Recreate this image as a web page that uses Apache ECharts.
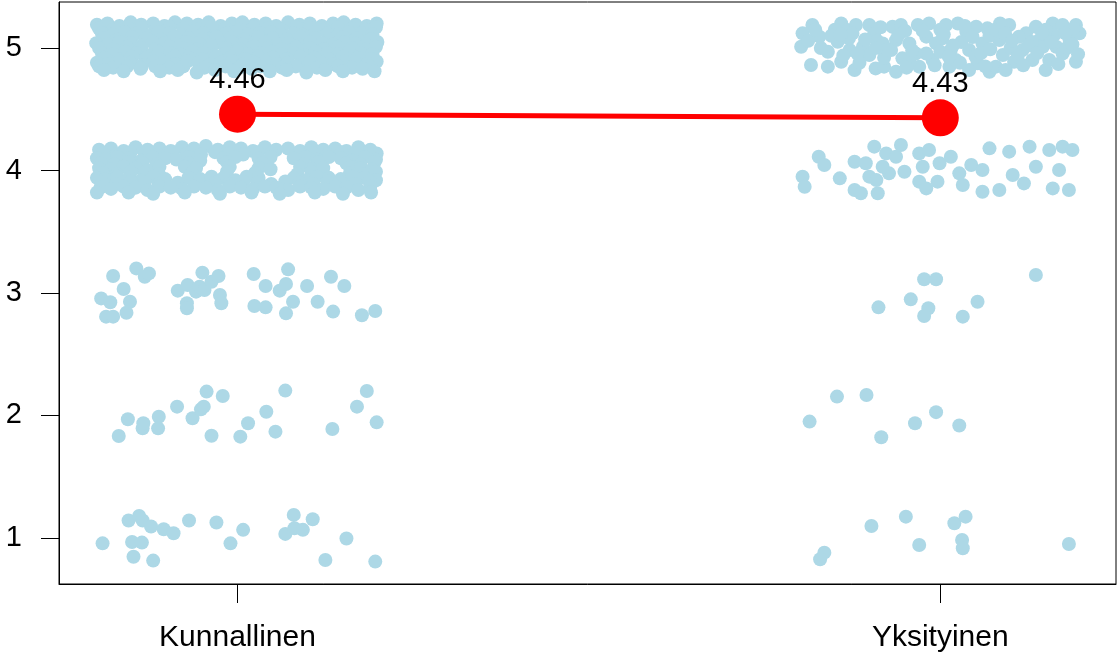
<!DOCTYPE html>
<html>
<head>
<meta charset="utf-8">
<script src="https://cdn.jsdelivr.net/npm/echarts@6/dist/echarts.min.js"></script>
<style>
html,body{margin:0;padding:0;background:#fff;}
#chart{width:1117px;height:656px;}
</style>
</head>
<body>
<div id="chart"></div>
<script>
// ---- data ----
const categories = ['Kunnallinen', 'Yksityinen'];
const yTicks = [1, 2, 3, 4, 5];
const meanValues = [4.46, 4.43];
const meanLabels = ['4.46', '4.43'];

// Kunnallinen, answers = 5 (jittered)
const kun5 = [
[0.800,5.19],[0.815,5.20],[0.832,5.18],[0.848,5.21],[0.863,5.19],[0.880,5.20],[0.896,5.18],[0.911,5.21],[0.928,5.20],[0.944,5.19],[0.959,5.21],[0.976,5.18],[0.992,5.20],[1.007,5.21],[1.024,5.19],[1.040,5.20],[1.055,5.18],[1.072,5.21],[1.088,5.19],[1.103,5.20],[1.120,5.18],[1.136,5.20],[1.151,5.21],[1.168,5.19],[1.184,5.18],[1.198,5.20],
[0.803,5.16],[0.823,5.15],[0.843,5.17],[0.863,5.16],[0.883,5.15],[0.903,5.17],[0.923,5.16],[0.943,5.15],[0.963,5.17],[0.983,5.16],[1.003,5.15],[1.023,5.17],[1.043,5.16],[1.063,5.15],[1.083,5.17],[1.103,5.16],[1.123,5.15],[1.143,5.17],[1.163,5.16],[1.183,5.15],[1.197,5.17],
[0.807,5.12],[0.823,5.11],[0.840,5.13],[0.856,5.12],[0.871,5.10],[0.888,5.13],[0.904,5.12],[0.919,5.11],[0.936,5.13],[0.952,5.12],[0.967,5.10],[0.984,5.12],[1.000,5.13],[1.015,5.11],[1.032,5.12],[1.048,5.13],[1.063,5.11],[1.080,5.12],[1.096,5.10],[1.111,5.13],[1.128,5.12],[1.144,5.11],[1.159,5.13],[1.176,5.12],[1.192,5.11],
[0.810,5.08],[0.830,5.07],[0.850,5.09],[0.870,5.08],[0.890,5.07],[0.910,5.09],[0.930,5.08],[0.950,5.07],[0.970,5.09],[0.990,5.08],[1.010,5.07],[1.030,5.09],[1.050,5.08],[1.070,5.07],[1.090,5.09],[1.110,5.08],[1.130,5.07],[1.150,5.09],[1.170,5.08],[1.190,5.07],
[0.799,5.04],[0.815,5.03],[0.832,5.05],[0.848,5.04],[0.864,5.02],[0.880,5.05],[0.896,5.04],[0.912,5.03],[0.928,5.05],[0.944,5.04],[0.960,5.02],[0.976,5.04],[0.992,5.05],[1.008,5.03],[1.024,5.04],[1.040,5.05],[1.056,5.03],[1.072,5.04],[1.088,5.02],[1.104,5.05],[1.120,5.04],[1.136,5.03],[1.152,5.05],[1.168,5.04],[1.184,5.03],[1.199,5.05],
[0.803,5.00],[0.823,4.99],[0.843,5.01],[0.863,5.00],[0.883,4.99],[0.903,5.01],[0.923,5.00],[0.943,4.99],[0.963,5.01],[0.983,5.00],[1.003,4.99],[1.023,5.01],[1.043,5.00],[1.063,4.99],[1.083,5.01],[1.103,5.00],[1.123,4.99],[1.143,5.01],[1.163,5.00],[1.183,4.99],[1.197,5.01],
[0.807,4.96],[0.823,4.95],[0.840,4.97],[0.856,4.96],[0.871,4.94],[0.888,4.97],[0.904,4.96],[0.919,4.95],[0.936,4.97],[0.952,4.96],[0.967,4.94],[0.984,4.96],[1.000,4.97],[1.015,4.95],[1.032,4.96],[1.048,4.97],[1.063,4.95],[1.080,4.96],[1.096,4.94],[1.111,4.97],[1.128,4.96],[1.144,4.95],[1.159,4.97],[1.176,4.96],[1.192,4.95],
[0.810,4.92],[0.830,4.91],[0.850,4.93],[0.870,4.92],[0.890,4.91],[0.910,4.93],[0.930,4.92],[0.950,4.91],[0.970,4.93],[0.990,4.92],[1.010,4.91],[1.030,4.93],[1.050,4.92],[1.070,4.91],[1.090,4.93],[1.110,4.92],[1.130,4.91],[1.150,4.93],[1.170,4.92],[1.190,4.91],
[0.800,4.88],[0.815,4.87],[0.832,4.89],[0.848,4.88],[0.864,4.86],[0.880,4.89],[0.896,4.88],[0.912,4.87],[0.928,4.89],[0.944,4.88],[0.960,4.86],[0.976,4.88],[0.992,4.89],[1.008,4.87],[1.024,4.88],[1.040,4.89],[1.056,4.87],[1.072,4.88],[1.088,4.86],[1.104,4.89],[1.120,4.88],[1.136,4.87],[1.152,4.89],[1.168,4.88],[1.184,4.87],[1.198,4.89],
[0.803,4.85],[0.823,4.84],[0.843,4.85],[0.863,4.84],[0.883,4.85],[0.903,4.84],[0.923,4.85],[0.953,4.84],[0.983,4.85],[1.003,4.84],[1.033,4.85],[1.063,4.84],[1.083,4.85],[1.113,4.84],[1.143,4.85],[1.163,4.84],[1.188,4.85],
[0.810,4.82],[0.838,4.81],[0.862,4.83],[0.890,4.81],[0.915,4.82],[0.942,4.80],[0.968,4.82],[0.995,4.81],[1.020,4.83],[1.046,4.81],[1.070,4.82],[1.098,4.80],[1.125,4.82],[1.150,4.81],[1.178,4.83],[1.195,4.81]
];

// Kunnallinen, answers = 4
const kun4 = [
[0.803,4.17],[0.820,4.18],[0.838,4.16],[0.855,4.19],[0.872,4.17],[0.889,4.18],[0.905,4.16],[0.921,4.19],[0.938,4.18],[0.955,4.20],[0.972,4.17],[0.989,4.19],[1.005,4.18],[1.022,4.16],[1.039,4.19],[1.055,4.17],[1.072,4.18],[1.089,4.16],[1.105,4.19],[1.122,4.17],[1.139,4.18],[1.155,4.16],[1.172,4.19],[1.189,4.17],[1.198,4.14],
[0.808,4.14],[0.828,4.13],[0.848,4.15],[0.868,4.14],[0.888,4.13],[0.908,4.15],[0.928,4.14],[0.948,4.13],[0.968,4.15],[0.988,4.14],[1.008,4.13],[1.028,4.15],[1.048,4.14],[1.088,4.15],[1.108,4.14],[1.128,4.13],[1.148,4.15],[1.168,4.14],[1.188,4.13],
[0.800,4.10],[0.812,4.09],[0.829,4.11],[0.846,4.10],[0.863,4.08],[0.880,4.11],[0.897,4.10],[0.913,4.09],[0.930,4.11],[0.947,4.08],[0.980,4.10],[0.997,4.11],[1.030,4.10],[1.047,4.11],[1.080,4.10],[1.097,4.11],[1.113,4.09],[1.130,4.11],[1.147,4.10],[1.164,4.08],[1.181,4.11],[1.197,4.09],
[0.805,4.06],[0.825,4.05],[0.845,4.07],[0.865,4.06],[0.885,4.05],[0.930,4.06],[0.985,4.07],[1.035,4.06],[1.095,4.05],[1.115,4.07],[1.155,4.06],[1.175,4.05],[1.195,4.07],
[0.803,4.02],[0.820,4.01],[0.838,4.03],[0.855,4.02],[0.872,4.00],[0.889,4.03],[0.925,4.03],[0.941,4.02],[0.989,4.03],[1.030,4.02],[1.047,4.01],[1.089,4.03],[1.105,4.01],[1.122,4.02],[1.160,4.03],[1.175,4.02],[1.192,4.01],
[0.808,3.98],[0.828,3.97],[0.848,3.99],[0.868,3.98],[0.888,3.97],[0.935,3.98],[0.985,3.99],[1.025,3.98],[1.085,3.97],[1.105,3.99],[1.160,3.98],[1.180,3.97],[1.197,3.99],
[0.800,3.94],[0.812,3.93],[0.829,3.95],[0.846,3.94],[0.863,3.92],[0.880,3.95],[0.897,3.93],[0.930,3.94],[0.947,3.93],[0.963,3.95],[0.980,3.94],[0.997,3.92],[1.013,3.95],[1.030,3.94],[1.080,3.94],[1.097,3.92],[1.113,3.95],[1.130,3.94],[1.147,3.93],[1.164,3.95],[1.181,3.94],[1.197,3.92],
[0.808,3.90],[0.828,3.89],[0.848,3.91],[0.868,3.90],[0.888,3.89],[0.915,3.90],[0.945,3.91],[0.968,3.90],[0.988,3.89],[1.008,3.91],[1.028,3.90],[1.048,3.89],[1.068,3.91],[1.088,3.90],[1.108,3.89],[1.128,3.91],[1.148,3.90],[1.168,3.89],[1.188,3.91],
[0.805,3.86],[0.820,3.85],[0.838,3.87],[0.855,3.86],[0.872,3.84],[0.889,3.87],[0.905,3.86],[0.921,3.85],[0.938,3.87],[0.955,3.86],[0.972,3.84],[0.989,3.87],[1.005,3.86],[1.022,3.85],[1.039,3.87],[1.055,3.86],[1.072,3.84],[1.089,3.87],[1.105,3.86],[1.122,3.85],[1.139,3.87],[1.155,3.86],[1.172,3.84],[1.189,3.87],
[0.800,3.82],[0.845,3.82],[0.880,3.81],[0.925,3.82],[0.975,3.81],[1.020,3.82],[1.060,3.81],[1.110,3.82],[1.150,3.81],[1.190,3.82]
];

// Kunnallinen, answers = 3
const kun3 = [
[0.806,2.956],[0.823,3.139],[0.819,2.924],[0.838,3.033],[0.847,2.929],[0.813,2.807],[0.823,2.807],[0.842,2.839],[0.856,3.201],[0.868,3.133],[0.874,3.160],[0.915,3.019],[0.929,3.065],[0.928,2.916],[0.928,2.875],[0.941,3.011],[0.950,3.166],[0.946,3.052],[0.953,3.024],[0.963,3.092],[0.973,3.139],[0.975,2.984],[0.977,2.916],[1.023,3.155],[1.024,2.894],[1.040,3.057],[1.040,2.883],[1.060,3.019],[1.069,3.073],[1.072,3.193],[1.069,2.834],[1.079,2.929],[1.099,3.057],[1.114,2.929],[1.133,3.133],[1.136,2.848],[1.152,3.057],[1.177,2.818],[1.196,2.853]
];

// Kunnallinen, answers = 2
const kun2 = [
[0.831,1.833],[0.844,1.969],[0.865,1.895],[0.866,1.936],[0.888,1.990],[0.887,1.895],[0.914,2.072],[0.936,1.977],[0.948,2.050],[0.952,2.072],[0.956,2.195],[0.979,2.159],[0.963,1.835],[1.004,1.827],[1.015,1.936],[1.041,2.031],[1.054,1.868],[1.068,2.203],[1.135,1.890],[1.170,2.072],[1.184,2.200],[1.198,1.944]
];

// Kunnallinen, answers = 1
const kun1 = [
[0.808,0.956],[0.845,1.142],[0.860,1.180],[0.865,1.142],[0.877,1.093],[0.895,1.071],[0.909,1.038],[0.931,1.142],[0.970,1.126],[1.008,1.066],[0.990,0.956],[0.850,0.967],[0.864,0.962],[0.852,0.847],[0.880,0.815],[1.068,1.033],[1.080,1.188],[1.081,1.079],[1.093,1.066],[1.107,1.153],[1.155,0.995],[1.125,0.820],[1.196,0.807]
];

// Yksityinen, answers = 5
const yks5 = [
[1.818,5.188],[1.804,5.120],[1.802,5.011],[1.816,4.861],[1.840,4.848],[1.859,5.201],[1.868,5.147],[1.880,5.188],[1.854,5.052],[1.840,4.970],[1.859,4.888],[1.878,4.820],[1.899,5.188],[1.906,5.120],[1.890,5.011],[1.899,4.943],[1.908,4.834],[1.920,4.848],[1.932,5.174],[1.944,5.188],[1.937,5.065],[1.930,4.984],[1.946,4.916],[1.937,4.807],[1.956,5.038],[1.968,5.188],[1.984,5.201],[1.980,5.093],[1.994,5.038],[1.989,4.902],[1.970,4.848],[2.008,5.188],[2.003,5.079],[2.015,4.984],[2.013,4.848],[2.037,5.133],[2.051,5.174],[2.067,5.161],[2.041,4.984],[2.060,5.038],[2.053,4.875],[2.070,4.807],[2.084,5.065],[2.098,5.188],[2.089,4.943],[2.105,4.888],[2.122,5.120],[2.117,4.984],[2.136,5.174],[2.141,5.065],[2.131,4.902],[2.150,4.820],[2.160,5.201],[2.174,5.188],[2.193,5.188],[2.184,5.065],[2.165,5.011],[2.193,4.888],[2.155,4.902],[2.174,4.956],[2.146,5.011],[2.112,5.093],[2.079,4.848],[2.022,4.902],[1.980,4.956],[1.956,4.888],[1.918,5.038],[1.871,4.984],[1.828,5.093],[1.882,4.956],[1.965,4.956],[2.041,4.820],[2.093,4.820],[2.162,5.106],[2.198,5.120],
[1.850,5.150],[1.830,5.000],[1.870,5.080],[1.910,5.060],[1.950,5.140],[1.960,4.980],[2.000,5.150],[2.030,5.050],[2.050,4.930],[2.070,5.100],[2.100,5.000],[2.110,4.930],[2.130,5.050],[2.150,5.150],[2.180,5.000],[2.190,5.160],[1.920,4.920],[2.000,4.970],[2.025,5.200],[2.085,5.200],
[1.812,5.060],[1.822,5.150],[1.845,5.100],[1.862,4.940],[1.875,5.120],[1.885,4.880],[1.893,5.070],[1.915,5.170],[1.925,4.990],[1.940,5.100],[1.952,4.840],[1.975,5.140],[1.992,4.860],[2.005,5.110],[2.018,5.020],[2.028,4.880],[2.035,5.180],[2.046,5.090],[2.058,4.960],[2.064,4.850],[2.078,5.150],[2.092,5.120],[2.102,5.060],[2.118,4.860],[2.125,5.020],[2.138,4.960],[2.145,5.120],[2.158,5.050],[2.168,4.870],[2.178,5.120],[2.188,5.030],[2.196,4.950],[1.858,5.110],[1.908,5.000],[2.012,4.930],[2.071,4.990]
];

// Yksityinen, answers = 4
const yks4 = [
[1.827,4.113],[1.835,4.045],[1.804,3.950],[1.807,3.868],[1.857,3.936],[1.878,4.072],[1.894,4.059],[1.906,4.195],[1.899,3.950],[1.878,3.841],[1.887,3.814],[1.911,3.814],[1.909,3.922],[1.923,4.140],[1.937,4.113],[1.944,4.208],[1.949,3.990],[1.927,3.977],[1.918,4.031],[1.970,4.140],[1.984,4.167],[1.999,4.059],[2.015,4.113],[1.975,4.031],[1.970,3.909],[1.980,3.854],[1.996,3.909],[2.027,3.977],[2.032,3.882],[2.044,4.045],[2.060,4.004],[2.060,3.827],[2.070,4.181],[2.084,3.841],[2.098,4.154],[2.103,3.963],[2.119,3.895],[2.127,4.195],[2.136,4.031],[2.155,4.167],[2.169,4.004],[2.174,4.195],[2.188,4.167],[2.160,3.854],[2.183,3.841]
];

// Yksityinen, answers = 3
const yks3 = [
[1.977,3.112],[1.994,3.112],[2.136,3.147],[1.958,2.948],[1.912,2.883],[1.983,2.875],[1.977,2.812],[2.032,2.807],[2.053,2.929]
];

// Yksityinen, answers = 2
const yks2 = [
[1.814,1.950],[1.853,2.154],[1.895,2.167],[1.916,1.822],[1.964,1.937],[1.994,2.027],[2.027,1.918]
];

// Yksityinen, answers = 1
const yks1 = [
[1.835,0.880],[1.829,0.826],[1.902,1.098],[1.951,1.174],[1.970,0.943],[2.020,1.120],[2.036,1.174],[2.031,0.984],[2.032,0.916],[2.183,0.951]
];

// ---- chart ----
const FONT = '"Liberation Sans", Arial, sans-serif';
const chart = echarts.init(document.getElementById('chart'), null, {renderer: 'canvas'});

const pointSeries = [kun5, kun4, kun3, kun2, kun1, yks5, yks4, yks3, yks2, yks1].map(d => ({
  type: 'scatter',
  data: d,
  symbol: 'circle',
  symbolSize: 14,
  itemStyle: {color: '#ADD8E6', opacity: 1},
  silent: true,
  z: 2
}));

chart.setOption({
  animation: false,
  backgroundColor: '#ffffff',
  grid: {
    left: 59, top: 2, right: 1, bottom: 72,
    show: true, borderColor: '#000', borderWidth: 1, backgroundColor: 'transparent'
  },
  xAxis: {
    type: 'value',
    min: 0.746, max: 2.25,
    splitLine: {show: false},
    axisLine: {show: true, lineStyle: {color: '#000', width: 1}},
    axisTick: {show: true, customValues: [1, 2], length: 19, lineStyle: {color: '#000', width: 1}},
    axisLabel: {
      show: true, customValues: [1, 2],
      formatter: v => categories[Math.round(v) - 1],
      fontSize: 30, color: '#000', fontFamily: FONT, margin: 39
    }
  },
  yAxis: {
    type: 'value',
    min: 0.624, max: 5.376,
    splitLine: {show: false},
    axisLine: {show: true, lineStyle: {color: '#000', width: 1}},
    axisTick: {show: true, customValues: yTicks, length: 18, lineStyle: {color: '#000', width: 1}},
    axisLabel: {
      show: true, customValues: yTicks,
      formatter: v => String(v),
      fontSize: 29, color: '#000', fontFamily: FONT, margin: 37
    }
  },
  series: pointSeries.concat([{
    type: 'line',
    data: meanValues.map((v, i) => [i + 1, v]),
    symbol: 'circle',
    symbolSize: 37,
    itemStyle: {color: '#ff0000'},
    lineStyle: {color: '#ff0000', width: 5},
    label: {
      show: true, position: 'top', distance: 1,
      formatter: p => meanLabels[p.dataIndex],
      fontSize: 29, color: '#000', fontFamily: FONT
    },
    silent: true,
    z: 5
  }])
});
</script>
</body>
</html>
